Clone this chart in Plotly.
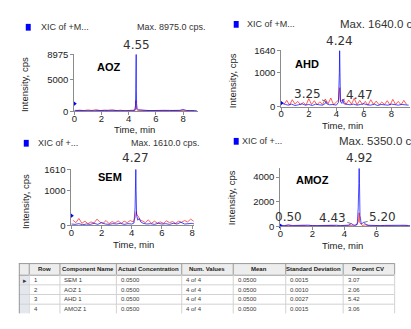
import plotly.graph_objects as go

W, H = 411, 329

# ---------------- data ----------------
# AOZ chromatogram
aoz_blue_t = [0.0,0.25,0.5,0.75,1.0,1.25,1.5,1.75,2.0,2.25,2.5,2.75,3.0,3.25,3.5,3.75,4.0,4.25,4.45,4.5,4.52,4.54,4.55,4.56,4.58,4.62,4.7,4.85,5.0,5.25,5.5,5.75,6.0,6.25,6.5,6.75,7.0,7.25,7.5,7.75,8.0,8.25,8.5,8.75,9.0]
aoz_blue_y = [150,90,140,110,80,130,100,150,90,120,160,100,140,110,90,150,120,100,180,900,3400,6000,8975,3500,1200,400,250,200,230,150,130,170,120,140,160,110,150,130,120,160,300,140,110,130,120]
aoz_red_t = [0.1,0.4,0.7,1.0,1.3,1.6,1.9,2.2,2.5,2.8,3.1,3.4,3.7,4.0,4.3,4.48,4.53,4.55,4.58,4.65,4.9,5.2,5.5,5.8,6.1,6.4,6.7,7.0,7.3,7.6,7.9,8.2,8.5,8.8]
aoz_red_y = [100,180,120,220,140,260,110,200,150,240,120,180,100,160,130,200,1700,1200,300,180,150,120,170,110,140,100,160,120,150,110,130,100,120,110]

# AHD chromatogram
ahd_blue_t = [0.0,0.1,0.3,0.5,0.75,1.0,1.25,1.5,1.75,2.0,2.25,2.5,2.75,3.0,3.2,3.25,3.3,3.5,3.75,4.0,4.15,4.2,4.22,4.24,4.26,4.3,4.4,4.47,4.55,4.75,5.0,5.25,5.5,5.75,6.0,6.25,6.5,6.75,7.0,7.25,7.5,7.75,8.0,8.25,8.5,8.75,9.0,9.25]
ahd_blue_y = [140,90,60,40,70,30,50,80,40,60,30,70,50,40,90,150,80,50,60,40,120,600,1000,1640,1000,150,90,200,80,60,50,70,40,60,80,50,40,70,30,60,50,40,70,50,40,60,50,40]
ahd_red_t = [0.2,0.4,0.6,0.8,1.0,1.2,1.4,1.6,1.8,2.0,2.2,2.4,2.6,2.8,3.0,3.2,3.4,3.6,3.8,4.0,4.18,4.22,4.25,4.3,4.5,4.7,4.9,5.1,5.3,5.5,5.7,5.9,6.1,6.3,6.5,6.7,6.9,7.1,7.3,7.5,7.7,7.9,8.1,8.3,8.5,8.7,8.9,9.1]
ahd_red_y = [60,180,40,200,70,150,50,120,40,230,60,170,50,140,60,220,80,250,50,120,200,450,550,150,210,60,190,70,240,50,180,60,150,40,200,60,160,50,130,60,170,40,210,60,150,50,180,60]

# SEM chromatogram
sem_blue_t = [0.0,0.25,0.5,0.75,1.0,1.25,1.5,1.75,2.0,2.25,2.5,2.75,3.0,3.25,3.5,3.75,4.0,4.15,4.22,4.25,4.27,4.29,4.32,4.4,4.5,4.6,4.75,5.0,5.25,5.5,5.75,6.0,6.25,6.5,6.75,7.0,7.25,7.5,7.75,8.0,8.13]
sem_blue_y = [40,30,50,20,40,30,60,30,80,40,30,50,40,60,30,50,40,70,500,1000,1610,1000,300,150,200,100,60,40,50,30,60,40,50,30,60,40,90,40,50,60,40]
sem_red_t = [0.1,0.3,0.5,0.7,0.9,1.1,1.3,1.5,1.7,1.9,2.1,2.3,2.5,2.7,2.9,3.1,3.3,3.5,3.7,3.9,4.1,4.25,4.3,4.35,4.45,4.55,4.7,4.9,5.1,5.3,5.5,5.7,5.9,6.1,6.3,6.5,6.7,6.9,7.1,7.3,7.5,7.7,7.9,8.1]
sem_red_y = [150,80,200,60,120,50,100,70,180,90,60,140,50,110,70,130,60,120,80,140,100,250,400,300,250,150,130,80,160,60,120,70,100,60,130,80,110,60,120,90,140,100,180,120]

# AMOZ chromatogram
amoz_blue_t = [0.0,0.1,0.25,0.5,0.75,1.0,1.25,1.5,1.75,2.0,2.25,2.5,2.75,3.0,3.25,3.5,3.75,4.0,4.25,4.43,4.6,4.8,4.86,4.9,4.92,4.94,4.97,5.05,5.2,5.35,5.5,5.75,6.0,6.25,6.5,6.75,7.0,7.25,7.5,7.75,8.0,8.1]
amoz_blue_y = [150,80,60,120,70,90,60,80,100,60,70,90,60,80,70,90,60,80,100,220,90,150,1500,3500,5350,3500,900,200,320,150,90,70,100,60,80,90,70,60,80,90,70,60]
amoz_red_t = [0.2,0.5,0.8,1.1,1.4,1.7,2.0,2.3,2.6,2.9,3.2,3.5,3.8,4.1,4.4,4.7,4.88,4.92,4.96,5.1,5.3,5.6,5.9,6.2,6.5,6.8,7.1,7.4,7.7,8.0]
amoz_red_y = [40,90,30,60,80,40,70,30,60,40,80,30,50,70,60,40,400,1100,300,80,120,40,70,50,60,40,70,30,60,50]

panel_names = ["AOZ", "AHD", "SEM", "AMOZ"]
panel_titles = ["XIC of +M...", "XIC of +M...", "XIC of +...", "XIC of +..."]
panel_max = [8975.0, 1640.0, 1610.0, 5350.0]
panel_yticks = [[0, 5000, 8975], [0, 1000, 1640], [0, 1000, 1610], [0, 2000, 4000]]
panel_xticks = [[0, 2, 4, 6, 8], [0, 2, 4, 6, 8], [0, 2, 4, 6, 8], [0, 2, 4, 6]]
start_marker_y = [1200, 100, 280, 60]
apex_t = [4.55, 4.24, 4.27, 4.92]
minor_peak_t = [[], [3.25, 4.47], [], [0.50, 4.43, 5.20]]
minor_peak_y = [[], [150, 200], [], [120, 220, 320]]

blue_t = [aoz_blue_t, ahd_blue_t, sem_blue_t, amoz_blue_t]
blue_y = [aoz_blue_y, ahd_blue_y, sem_blue_y, amoz_blue_y]
red_t = [aoz_red_t, ahd_red_t, sem_red_t, amoz_red_t]
red_y = [aoz_red_y, ahd_red_y, sem_red_y, amoz_red_y]

# results table
tbl_header = ["", "Row", "Component Name", "Actual Concentration", "Num. Values", "Mean", "Standard Deviation", "Percent CV"]
tbl_sel = ["\u25b8", "", "", ""]
tbl_row = ["1", "2", "3", "4"]
tbl_component = ["SEM 1", "AOZ 1", "AHD 1", "AMOZ 1"]
tbl_actual = ["0.0500", "0.0500", "0.0500", "0.0500"]
tbl_num = ["4 of 4", "4 of 4", "4 of 4", "4 of 4"]
tbl_mean = ["0.0500", "0.0500", "0.0500", "0.0500"]
tbl_sd = ["0.0015", "0.0010", "0.0027", "0.0015"]
tbl_cv = ["3.07", "2.06", "5.42", "3.06"]

# ---------------- layout geometry (pixels) ----------------
geo = [
    dict(x0=72, x1=197, yb=109, yt=50, xmax=9.1, ymax=8975),
    dict(x0=281, x1=411, yb=104, yt=46, xmax=9.35, ymax=1640),
    dict(x0=69, x1=193, yb=227, yt=169, xmax=8.13, ymax=1610),
    dict(x0=280, x1=411, yb=228, yt=168, xmax=8.09, ymax=4700),
]
title_y = [22, 19, 142, 140]
title_x = [36, 244, 33, 239]
max_x = [133, 338, 127, 337]
max_size = [9, 11.5, 9, 11.5]
square_x = [23, 233, 21, 233]
name_pos = [(107, 63), (307, 60), (108, 177), (313, 180)]
ylab_pos = [(22, 81), (232, 77), (22, 202), (231, 198)]
xlab_pos = [(133, 128), (343, 124), (132, 247), (343, 248)]
apex_shift = [0, 0, 2, 1]
minor_off = [[], [(-19, -7), (17, -5)], [], [(0, -8), (-19, -6), (19, -5)]]

# table grid (pixels)
col_w = [10, 31, 57, 66, 52, 53, 58, 52]
tbl_left = 16
tbl_top = 266
head_h = 12
row_h = 10

def fx(p):
    return p / W

def fy(p):
    return 1 - p / H

TXT = "#222222"
FONT = "Liberation Sans, Arial, sans-serif"

fig = go.Figure()
annotations = []
shapes = []
layout_axes = {}

for i in range(4):
    g = geo[i]
    sfx = "" if i == 0 else str(i + 1)
    xa, ya = "x" + sfx, "y" + sfx
    fig.add_trace(go.Scatter(x=red_t[i], y=red_y[i], mode="lines",
                             line=dict(color="rgba(255,40,40,0.75)", width=1),
                             xaxis=xa, yaxis=ya, showlegend=False, hoverinfo="skip"))
    fig.add_trace(go.Scatter(x=blue_t[i], y=blue_y[i], mode="lines",
                             line=dict(color="rgba(0,0,255,0.7)", width=1),
                             xaxis=xa, yaxis=ya, showlegend=False, hoverinfo="skip"))
    fig.add_trace(go.Scatter(x=[0], y=[start_marker_y[i]], mode="markers",
                             marker=dict(symbol="triangle-right", size=5, color="#0000ff"),
                             cliponaxis=False, xaxis=xa, yaxis=ya,
                             showlegend=False, hoverinfo="skip"))
    axfont = dict(family=FONT, size=9.5, color=TXT)
    layout_axes["xaxis" + sfx] = dict(
        domain=[fx(g["x0"]), min(1.0, fx(g["x1"]))], range=[0, g["xmax"]], anchor=ya,
        showline=True, linecolor="#8c8c8c", linewidth=1, ticks="outside", ticklen=3,
        tickcolor="#8c8c8c", tickvals=panel_xticks[i], tickfont=axfont,
        ticklabelstandoff=-5,
        showgrid=False, zeroline=False, fixedrange=True)
    layout_axes["yaxis" + sfx] = dict(
        domain=[fy(g["yb"]), fy(g["yt"])], range=[0, g["ymax"]], anchor=xa,
        showline=True, linecolor="#8c8c8c", linewidth=1, ticks="outside", ticklen=3,
        tickcolor="#8c8c8c", tickvals=panel_yticks[i],
        ticktext=[str(v) for v in panel_yticks[i]], tickfont=axfont,
        showgrid=False, zeroline=False, fixedrange=True)

    shapes.append(dict(type="rect", xref="paper", yref="paper",
                       x0=fx(square_x[i]), x1=fx(square_x[i] + 5),
                       y0=fy(title_y[i] + 3.5), y1=fy(title_y[i] - 3.5),
                       fillcolor="#0000ff", line=dict(width=0)))
    annotations.append(dict(text=panel_titles[i], xref="paper", yref="paper",
                            x=fx(title_x[i]), y=fy(title_y[i]), xanchor="left", yanchor="middle",
                            showarrow=False, font=dict(family=FONT, size=9, color="#333333")))
    annotations.append(dict(text="Max. %.1f cps." % panel_max[i], xref="paper", yref="paper",
                            x=fx(max_x[i]), y=fy(title_y[i]), xanchor="left", yanchor="middle",
                            showarrow=False, font=dict(family=FONT, size=max_size[i], color="#333333")))
    annotations.append(dict(text="<b>%s</b>" % panel_names[i], xref="paper", yref="paper",
                            x=fx(name_pos[i][0]), y=fy(name_pos[i][1]),
                            xanchor="center", yanchor="middle", showarrow=False,
                            font=dict(family=FONT, size=11, color="#000000")))
    annotations.append(dict(text="Intensity, cps", xref="paper", yref="paper", textangle=-90,
                            x=fx(ylab_pos[i][0]), y=fy(ylab_pos[i][1]),
                            xanchor="center", yanchor="middle", showarrow=False,
                            font=dict(family=FONT, size=9.5, color=TXT)))
    annotations.append(dict(text="Time, min", xref="paper", yref="paper",
                            x=fx(xlab_pos[i][0]), y=fy(xlab_pos[i][1]),
                            xanchor="center", yanchor="middle", showarrow=False,
                            font=dict(family=FONT, size=9.5, color=TXT)))
    annotations.append(dict(text="%.2f" % apex_t[i], xref=xa, yref=ya,
                            x=apex_t[i], y=g["ymax"], xanchor="center", yanchor="bottom",
                            yshift=apex_shift[i], showarrow=False,
                            font=dict(family="DejaVu Sans, sans-serif", size=12, color="#333333")))
    for k, t in enumerate(minor_peak_t[i]):
        annotations.append(dict(text="%.2f" % t, xref=xa, yref=ya,
                                x=t, y=minor_peak_y[i][k], ax=minor_off[i][k][0], ay=minor_off[i][k][1],
                                showarrow=True, arrowhead=0, arrowwidth=0.8, arrowcolor="#555555",
                                font=dict(family="DejaVu Sans, sans-serif", size=12, color="#333333")))

# ---------------- results table (grid + text) ----------------
cols = [tbl_sel, tbl_row, tbl_component, tbl_actual, tbl_num, tbl_mean, tbl_sd, tbl_cv]
n_rows = len(tbl_row)
edges = [tbl_left]
for w in col_w:
    edges.append(edges[-1] + w)
tbl_right = edges[-1]
row_edges = [tbl_top + head_h + r * row_h for r in range(n_rows + 1)]
tbl_bottom = row_edges[-1]

def rect(x0, y0, x1, y1, fill):
    shapes.append(dict(type="rect", xref="paper", yref="paper", layer="below",
                       x0=fx(x0), x1=fx(x1), y0=fy(y1), y1=fy(y0),
                       fillcolor=fill, line=dict(width=0)))

def seg(x0, y0, x1, y1, color):
    shapes.append(dict(type="line", xref="paper", yref="paper",
                       x0=fx(x0), x1=fx(x1), y0=fy(y0), y1=fy(y1),
                       line=dict(color=color, width=1)))

rect(tbl_left, tbl_top, tbl_right, tbl_top + head_h, "#ededed")
rect(tbl_left, tbl_top + head_h, edges[1], tbl_bottom, "#e4e8ee")
for ry in row_edges[1:-1]:
    seg(tbl_left, ry + 0.5, tbl_right, ry + 0.5, "#d2d2d2")
seg(tbl_left, tbl_top + 0.5, tbl_right, tbl_top + 0.5, "#9a9a9a")
seg(tbl_left, tbl_top + head_h + 0.5, tbl_right, tbl_top + head_h + 0.5, "#9a9a9a")
for k, ex in enumerate(edges):
    seg(ex + 0.5, tbl_top, ex + 0.5, tbl_top + head_h, "#9a9a9a")
    seg(ex + 0.5, tbl_top + head_h, ex + 0.5, tbl_bottom, "#9a9a9a" if k == 0 else "#d2d2d2")

for c, h in enumerate(tbl_header):
    if h:
        annotations.append(dict(text="<b>%s</b>" % h, xref="paper", yref="paper",
                                x=fx((edges[c] + edges[c + 1]) / 2), y=fy(tbl_top + head_h / 2 + 0.5),
                                xanchor="center", yanchor="middle", showarrow=False,
                                font=dict(family=FONT, size=6, color="#1a1a1a")))
for c, col in enumerate(cols):
    for r, v in enumerate(col):
        if v:
            annotations.append(dict(text=v, xref="paper", yref="paper",
                                    x=fx(edges[c] + (3 if c > 0 else 2)),
                                    y=fy(row_edges[r] + row_h / 2 + 0.5),
                                    xanchor="left", yanchor="middle", showarrow=False,
                                    font=dict(family=FONT, size=6 if c > 0 else 7, color="#3a3a3a")))

fig.update_layout(
    width=W, height=H, autosize=False,
    margin=dict(l=0, r=0, t=0, b=0),
    paper_bgcolor="white", plot_bgcolor="white",
    showlegend=False,
    annotations=annotations, shapes=shapes,
    **layout_axes,
)

fig.write_html("out.html", config={"displayModeBar": False})
